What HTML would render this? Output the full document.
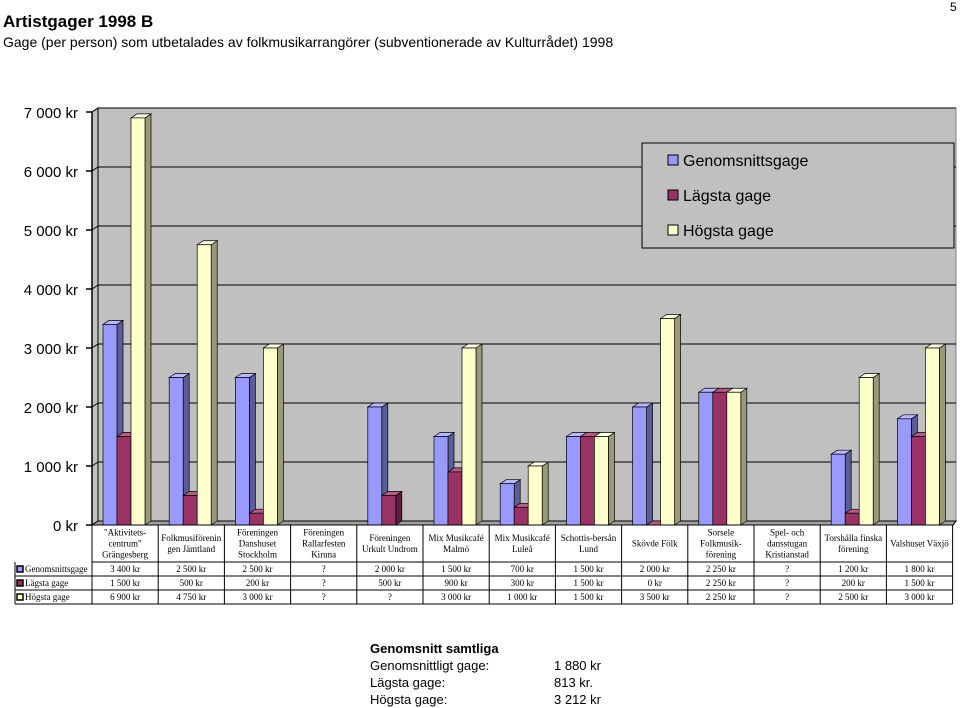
<!DOCTYPE html>
<html><head><meta charset="utf-8"><style>
body{margin:0;width:960px;height:706px;background:#fff;position:relative;overflow:hidden;font-family:"Liberation Sans",sans-serif}
.t{position:absolute}
.row{position:relative;white-space:nowrap;height:17px}
.row span{position:absolute;left:184px;white-space:nowrap}
</style></head><body>
<div class="t" style="left:3px;top:12px;font-size:17px;font-weight:bold">Artistgager 1998 B</div>
<div class="t" style="left:3px;top:34px;font-size:14px">Gage (per person) som utbetalades av folkmusikarrangörer (subventionerade av Kulturrådet) 1998</div>
<div class="t" style="left:950px;top:0px;font-size:12px">5</div>
<svg id="chart" width="960" height="706" style="position:absolute;left:0;top:0"></svg>
<div class="t" style="left:370px;top:640px;width:300px;font-size:13px;line-height:17px">
<div class="row" style="font-weight:bold">Genomsnitt samtliga</div>
<div class="row">Genomsnittligt gage:<span>1 880 kr</span></div>
<div class="row">Lägsta gage:<span>813 kr.</span></div>
<div class="row">Högsta gage:<span>3 212 kr</span></div>
</div>
<script>
const categories=[["\"Aktivitets-","centrum\"","Grängesberg"],["Folkmusiförenin","gen Jämtland"],["Föreningen","Danshuset","Stockholm"],["Föreningen","Rallarfesten","Kiruna"],["Föreningen","Urkult Undrom"],["Mix Musikcafé","Malmö"],["Mix Musikcafé","Luleå"],["Schottis-bersån","Lund"],["Skövde Fölk"],["Sorsele","Folkmusik-","förening"],["Spel- och","dansstugan","Kristianstad"],["Torshälla finska","förening"],["Valshuset Växjö"]];
const seriesNames=["Genomsnittsgage","Lägsta gage","Högsta gage"];
const avgValues=[3400,2500,2500,null,2000,1500,700,1500,2000,2250,null,1200,1800];
const minValues=[1500,500,200,null,500,900,300,1500,0,2250,null,200,1500];
const maxValues=[6900,4750,3000,null,null,3000,1000,1500,3500,2250,null,2500,3000];
const yTicks=[0,1000,2000,3000,4000,5000,6000,7000];
const tickLabels=["0 kr","1 000 kr","2 000 kr","3 000 kr","4 000 kr","5 000 kr","6 000 kr","7 000 kr"];
const svg=document.getElementById('chart');const NS='http://www.w3.org/2000/svg';
function mk(tag,attrs,parent){const e=document.createElementNS(NS,tag);for(const k in attrs)e.setAttribute(k,attrs[k]);(parent||svg).appendChild(e);return e;}
const x0=92,colW=66.2,y0=525,pxPer=0.059,dx=6,dy=-4;
const yS=v=>y0-v*pxPer;
const colX=i=>x0+i*colW;
const fmt=v=>v==null?'?':(v>=1000?Math.floor(v/1000)+' '+String(v%1000).padStart(3,'0'):String(v))+' kr';
let w=mk('polygon',{points:`${x0},${y0} ${x0+dx},${y0+dy} ${x0+dx},${yS(7000)+dy} 956,${yS(7000)+dy} 956,${y0+dy} 953,${y0}`,fill:'#c0c0c0',stroke:'#808080'});

let side=mk('polygon',{points:`${x0},${y0} ${x0},${yS(7000)} ${x0+dx},${yS(7000)+dy} ${x0+dx},${y0+dy}`,fill:'#c0c0c0',stroke:'#000'});

yTicks.forEach((t,i)=>{
 const y=yS(t);
 const g=mk('line',{x1:x0+dx,y1:y+dy,x2:956,y2:y+dy,stroke:'#000','stroke-width':1});
 
 mk('line',{x1:x0,y1:y,x2:x0+dx,y2:y+dy,stroke:'#000'});
 mk('line',{x1:86,y1:y,x2:x0,y2:y,stroke:'#000','stroke-width':1.5});
 const tx=mk('text',{x:78,y:y+6,'text-anchor':'end','font-size':15,'font-family':'Liberation Sans, sans-serif'});
 tx.textContent=tickLabels[i];
});
mk('line',{x1:x0,y1:y0,x2:x0,y2:yS(7000),stroke:'#000','stroke-width':1.5});
let fl=mk('polygon',{points:`${x0},${y0} ${x0+dx},${y0+dy} 956,${y0+dy} 953,${y0}`,fill:'#a0a0a0',stroke:'#000'});

const cols=[['#9999ff','#5c5c99','#b8b8ff'],['#993366','#5c1f3d','#b85c85'],['#ffffcc','#99997a','#ffffe6']];
const series=[avgValues,minValues,maxValues];const bw=14;
categories.forEach((c,i)=>{
 series.forEach((arr,s)=>{
  const v=arr[i];if(v==null)return;
  const x=colX(i)+11+s*bw,y=yS(v),c3=cols[s];
  const g=mk('g',{});
  
  
  mk('polygon',{points:`${x+bw},${y0} ${x+bw+dx},${y0+dy} ${x+bw+dx},${y+dy} ${x+bw},${y}`,fill:c3[1],stroke:'#000','stroke-width':0.7},g);
  mk('polygon',{points:`${x},${y} ${x+dx},${y+dy} ${x+bw+dx},${y+dy} ${x+bw},${y}`,fill:c3[2],stroke:'#000','stroke-width':0.7},g);
  mk('rect',{x:x,y:y,width:bw,height:y0-y,fill:c3[0],stroke:'#000','stroke-width':0.7},g);
 });
});
const lg=mk('g',{});
mk('rect',{x:642,y:143,width:312,height:105,fill:'#c0c0c0',stroke:'#000','stroke-width':1},lg);
seriesNames.forEach((n,s)=>{
 const e=mk('g',{},lg);
 const y=160+s*35;
 mk('rect',{x:668,y:y-5,width:10,height:10,fill:cols[s][0],stroke:'#000'},e);
 const t=mk('text',{x:683,y:y+6,'font-size':16,'font-family':'Liberation Sans, sans-serif'},e);t.textContent=n;
});
const tb=mk('g',{});
const xe=colX(13);
[525,562,576,590,604].forEach((y,k)=>mk('line',{x1:k<2?x0:15,y1:y,x2:xe,y2:y,stroke:'#000'},tb));
for(let i=0;i<=13;i++)mk('line',{x1:colX(i),y1:525,x2:colX(i),y2:604,stroke:'#000'},tb);
mk('line',{x1:15,y1:562,x2:15,y2:604,stroke:'#000'},tb);
const sf='Liberation Serif, serif';
categories.forEach((c,i)=>{
 const cx=colX(i)+colW/2,h=c.length*11,st=543-h/2+9;
 c.forEach((l,j)=>{const t=mk('text',{x:cx,y:st+j*11,'text-anchor':'middle','font-size':9,'font-family':sf},tb);t.textContent=l;});
 series.forEach((arr,s)=>{const t=mk('text',{x:cx,y:572+s*14,'text-anchor':'middle','font-size':9,'font-family':sf},tb);t.textContent=fmt(arr[i]);});
});
seriesNames.forEach((n,s)=>{
 const y=569+s*14;
 mk('rect',{x:17,y:y-3,width:6,height:6,fill:cols[s][0],stroke:'#000','stroke-width':1.5},tb);
 const t=mk('text',{x:25,y:y+3,'font-size':9,'font-family':sf},tb);t.textContent=n;
});
</script>
</body></html>
